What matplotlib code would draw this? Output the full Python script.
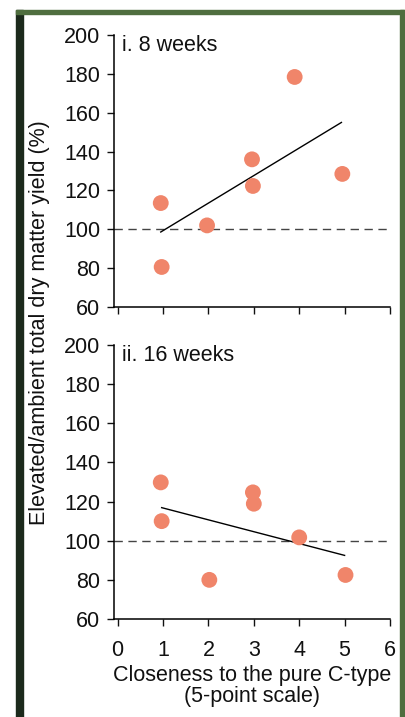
import numpy as np
import matplotlib
matplotlib.use('Agg')
import matplotlib.pyplot as plt
from matplotlib.patches import Rectangle

plt.rcParams['font.family'] = ['Liberation Sans', 'DejaVu Sans']

# Panel i: 8 weeks
x_8wk = [0.95, 0.97, 1.97, 2.96, 2.98, 3.9, 4.95]
y_8wk = [113.5, 80.6, 102, 136, 122.3, 178.4, 128.5]
fit_8wk_x = [0.95, 4.93]
fit_8wk_y = [98.6, 155]

# Panel ii: 16 weeks
x_16wk = [0.95, 0.97, 2.02, 2.98, 3.0, 4.0, 5.02]
y_16wk = [129.8, 110, 80, 124.7, 118.9, 101.7, 82.5]
fit_16wk_x = [0.97, 5.0]
fit_16wk_y = [116.9, 92.5]

panel_titles = ['i. 8 weeks', 'ii. 16 weeks']
yticks = [60, 80, 100, 120, 140, 160, 180, 200]
xticks = [0, 1, 2, 3, 4, 5, 6]

W, H = 406, 717
FS = 15.5
fig = plt.figure(figsize=(W / 100, H / 100), dpi=100)
fig.patch.set_facecolor('white')

# frame around the figure
frame_dark = '#1c2a1c'
frame_green = '#4f6e3f'
fig.patches.append(Rectangle((16 / W, 0), 7 / W, 1 - 10 / H, transform=fig.transFigure,
                             color=frame_dark, zorder=5))
fig.patches.append(Rectangle((16 / W, 1 - 14 / H), (405 - 16) / W, 4 / H,
                             transform=fig.transFigure, color=frame_green, zorder=5))
fig.patches.append(Rectangle((400 / W, 0), 4 / W, 1 - 10 / H, transform=fig.transFigure,
                             color=frame_green, zorder=5))

ax1 = fig.add_axes([114 / W, 1 - 307 / H, 276 / W, 272 / H])
ax2 = fig.add_axes([114 / W, 1 - 619 / H, 276 / W, 274 / H])

panels = [
    (ax1, x_8wk, y_8wk, fit_8wk_x, fit_8wk_y, panel_titles[0], False),
    (ax2, x_16wk, y_16wk, fit_16wk_x, fit_16wk_y, panel_titles[1], True),
]

for ax, xs, ys, fx, fy, title, show_x in panels:
    ax.axhline(100, color='#444444', lw=1.0, ls=(0, (6, 4)), zorder=1)
    ax.plot(fx, fy, color='black', lw=1.0, zorder=2)
    ax.scatter(xs, ys, s=130, color='#f0856a', edgecolors='none', zorder=3)
    ax.set_xlim(-0.08, 6)
    ax.set_ylim(60, 200)
    ax.set_yticks(yticks)
    ax.set_xticks(xticks)
    if not show_x:
        ax.set_xticklabels([])
    ax.spines['top'].set_visible(False)
    ax.spines['right'].set_visible(False)
    ax.spines['left'].set_linewidth(1.1)
    ax.spines['bottom'].set_linewidth(1.1)
    ax.tick_params(direction='out', length=5, width=1.0, labelsize=FS, colors='#111111')
    ax.tick_params(axis='y', pad=5)
    ax.tick_params(axis='x', pad=10)
    ax.text(0.03, 1.0, title, transform=ax.transAxes, fontsize=FS,
            ha='left', va='top', color='#111111')

ax2.set_xlabel('Closeness to the pure C-type\n(5-point scale)', fontsize=FS,
               color='#111111', labelpad=3, linespacing=1.0)

fig.text(40 / W, 1 - 323 / H, 'Elevated/ambient total dry matter yield (%)',
         rotation=90, ha='center', va='center', fontsize=FS, color='#111111')

fig.savefig('out.png', dpi=100)
